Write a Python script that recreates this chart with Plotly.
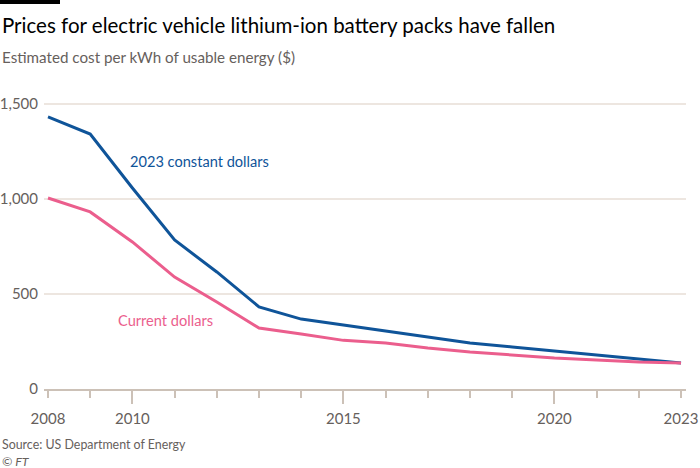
import plotly.graph_objects as go

years = list(range(2008, 2024))
constant_2023 = [1432, 1342, 1058, 784, 616, 432, 368, 337, 305, 274, 242, 221, 200, 179, 158, 137]
current = [1005, 932, 774, 589, 458, 321, 289, 256, 242, 216, 195, 179, 163, 153, 142, 137]
x_labels = [2008, 2010, 2015, 2020, 2023]
y_ticks = [0, 500, 1000, 1500]

BLUE = "#0F5499"
PINK = "#EB5E8D"
GREY = "#66605C"
FONT = "Lato"

fig = go.Figure()
fig.add_trace(go.Scatter(x=years, y=constant_2023, mode="lines",
                         line=dict(color=BLUE, width=3), hoverinfo="skip"))
fig.add_trace(go.Scatter(x=years, y=current, mode="lines",
                         line=dict(color=PINK, width=3), hoverinfo="skip"))
# invisible trace for overlay axis
fig.add_trace(go.Scatter(x=years, y=current, mode="lines", xaxis="x2",
                         line=dict(width=0), opacity=0, hoverinfo="skip"))

fig.update_layout(
    width=700, height=468,
    margin=dict(l=44, r=14, t=100, b=79, autoexpand=False),
    paper_bgcolor="white", plot_bgcolor="white",
    showlegend=False,
    font=dict(family=FONT, color=GREY, size=14),
    xaxis=dict(
        range=[2007.905, 2023.118], automargin=False,
        tickmode="array", tickvals=years,
        ticktext=[str(y) if y in x_labels else "" for y in years],
        ticks="outside", ticklen=7, tickwidth=1.5, tickcolor="#CCC1B7",
        ticklabelstandoff=8,
        showgrid=False, zeroline=False,
        showline=True, linecolor="#CCC1B7", linewidth=2,
        tickfont=dict(size=15, color=GREY),
    ),
    xaxis2=dict(
        overlaying="x", matches="x", side="bottom", automargin=False,
        tickmode="array", tickvals=[2010, 2015, 2020],
        showticklabels=False,
        ticks="outside", ticklen=14, tickwidth=1.5, tickcolor="#CCC1B7",
        showgrid=False, zeroline=False, showline=False,
    ),
    yaxis=dict(
        range=[0, 1521], automargin=False,
        tickmode="array", tickvals=y_ticks,
        ticktext=["0", "500", "1,000", "1,500"],
        showgrid=True, gridcolor="#EDE6E0", gridwidth=2,
        zeroline=False, ticks="", ticklabelstandoff=5,
        tickfont=dict(size=15, color=GREY),
    ),
)

fig.add_shape(type="rect", xref="paper", yref="paper",
              x0=-44/642, x1=16/642, y0=1+96/289, y1=1+100/289,
              fillcolor="black", line_width=0)

fig.add_annotation(text="Prices for electric vehicle lithium-ion battery packs have fallen",
                   xref="paper", yref="paper", x=-44/642, y=1+75/289,
                   xanchor="left", yanchor="middle", showarrow=False,
                   font=dict(family=FONT, size=20.5, color="#000000"))
fig.add_annotation(text="Estimated cost per kWh of usable energy ($)",
                   xref="paper", yref="paper", x=-44/642, y=1+43/289,
                   xanchor="left", yanchor="middle", showarrow=False,
                   font=dict(family=FONT, size=15.2, color=GREY))
fig.add_annotation(text="2023 constant dollars", xref="x", yref="y",
                   x=2009.9, y=1195, xanchor="left", yanchor="middle",
                   showarrow=False, font=dict(family=FONT, size=14.6, color=BLUE))
fig.add_annotation(text="Current dollars", xref="x", yref="y",
                   x=2009.61, y=363, xanchor="left", yanchor="middle",
                   showarrow=False, font=dict(family=FONT, size=14.6, color=PINK))
fig.add_annotation(text="Source: US Department of Energy",
                   xref="paper", yref="paper", x=-44/642, y=-55/289,
                   xanchor="left", yanchor="middle", showarrow=False,
                   font=dict(family=FONT, size=12.4, color=GREY))
fig.add_annotation(text="<i>© FT</i>",
                   xref="paper", yref="paper", x=-44/642, y=-72/289,
                   xanchor="left", yanchor="middle", showarrow=False,
                   font=dict(family=FONT, size=12.4, color=GREY))

fig.write_html("out.html")
